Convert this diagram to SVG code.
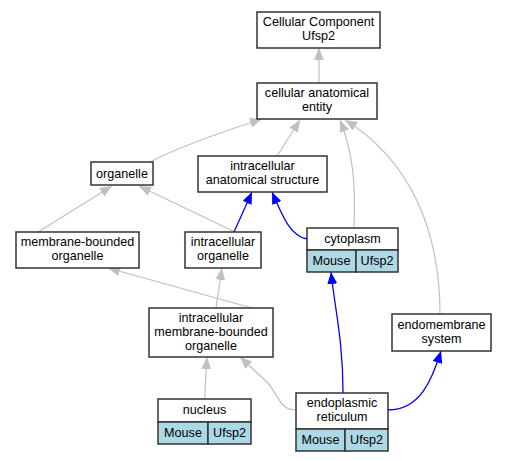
<svg xmlns="http://www.w3.org/2000/svg" width="507" height="461" viewBox="0 0 507 461">
<defs>
<style>
.n{fill:#fff;stroke:#333;stroke-width:1.5}
.c{fill:#add8e6;stroke:#333;stroke-width:1.5}
text{font-family:"Liberation Sans",Arial,sans-serif;font-size:12.6px;fill:#000;text-anchor:middle}
.g{fill:none;stroke:#c0c0c0;stroke-width:1.2}
.b{fill:none;stroke:#0000ff;stroke-width:1.3}
</style>
<marker id="ag" viewBox="0 0 12 10" markerWidth="12" markerHeight="10" refX="12" refY="5" orient="auto" markerUnits="userSpaceOnUse"><path d="M0,0 L12,5 L0,10 z" fill="#c0c0c0"/></marker>
<marker id="ab" viewBox="0 0 12 10" markerWidth="12" markerHeight="10" refX="12" refY="5" orient="auto" markerUnits="userSpaceOnUse"><path d="M0,0 L12,5 L0,10 z" fill="#0000ff"/></marker>
</defs>
<rect width="507" height="461" fill="#fff"/>
<g id="edges">
<path class="g" marker-end="url(#ag)" d="M319,83 L319,48"/>
<path class="g" marker-end="url(#ag)" d="M150,162 C180,146 228,130 262,119"/>
<path class="g" marker-end="url(#ag)" d="M277,156 L300,120"/>
<path class="g" marker-end="url(#ag)" d="M354,228 C356,180 352,150 340,120"/>
<path class="g" marker-end="url(#ag)" d="M440,314 C440,230 410,160 345,120"/>
<path class="g" marker-end="url(#ag)" d="M38,232 L112,186"/>
<path class="g" marker-end="url(#ag)" d="M235,232 L139,186"/>
<path class="b" marker-end="url(#ab)" d="M234,232 L252,192"/>
<path class="b" marker-end="url(#ab)" d="M307,239 C290,236 282,215 272,192"/>
<path class="g" marker-end="url(#ag)" d="M252,308 L108,268"/>
<path class="g" marker-end="url(#ag)" d="M216,308 L222,268"/>
<path class="g" marker-end="url(#ag)" d="M205,399 C205,385 206,372 207,357"/>
<path class="g" marker-end="url(#ag)" d="M296,410 C280,410 278,395 268,383 L240,357"/>
<path class="b" marker-end="url(#ab)" d="M343,393 C343,340 335,310 331,272"/>
<path class="b" marker-end="url(#ab)" d="M388,410 C420,410 432,380 441,351"/>
</g>
<g id="cc"><rect class="n" x="257" y="12" width="123" height="36"/><text x="318.5" y="26">Cellular Component</text><text x="318.5" y="40">Ufsp2</text></g>
<g id="cae"><rect class="n" x="257" y="83" width="120" height="36"/><text x="317" y="97">cellular anatomical</text><text x="317" y="111">entity</text></g>
<g id="organelle"><rect class="n" x="91" y="162" width="62" height="23"/><text x="122" y="178">organelle</text></g>
<g id="ias"><rect class="n" x="198" y="156" width="129" height="36"/><text x="262.5" y="170">intracellular</text><text x="262.5" y="184">anatomical structure</text></g>
<g id="cytoplasm"><rect class="n" x="307" y="228" width="91" height="22"/><text x="352.5" y="243">cytoplasm</text><rect class="c" x="307" y="250" width="49" height="22"/><rect class="c" x="356" y="250" width="42" height="22"/><text x="331.5" y="265">Mouse</text><text x="377" y="265">Ufsp2</text></g>
<g id="mbo"><rect class="n" x="16" y="232" width="123" height="36"/><text x="77.5" y="246">membrane-bounded</text><text x="77.5" y="260">organelle</text></g>
<g id="io"><rect class="n" x="185" y="232" width="76" height="36"/><text x="223" y="246">intracellular</text><text x="223" y="260">organelle</text></g>
<g id="imbo"><rect class="n" x="149" y="308" width="124" height="49"/><text x="211" y="322">intracellular</text><text x="211" y="336">membrane-bounded</text><text x="211" y="350">organelle</text></g>
<g id="ems"><rect class="n" x="392" y="314" width="99" height="37"/><text x="441.5" y="329">endomembrane</text><text x="441.5" y="343">system</text></g>
<g id="nucleus"><rect class="n" x="158" y="399" width="93" height="23"/><text x="204.5" y="414">nucleus</text><rect class="c" x="158" y="422" width="50" height="22"/><rect class="c" x="208" y="422" width="43" height="22"/><text x="183" y="437">Mouse</text><text x="229.5" y="437">Ufsp2</text></g>
<g id="er"><rect class="n" x="296" y="393" width="92" height="36"/><text x="342" y="407">endoplasmic</text><text x="342" y="421">reticulum</text><rect class="c" x="296" y="429" width="49" height="22"/><rect class="c" x="345" y="429" width="43" height="22"/><text x="320.5" y="444">Mouse</text><text x="366.5" y="444">Ufsp2</text></g>
</svg>
